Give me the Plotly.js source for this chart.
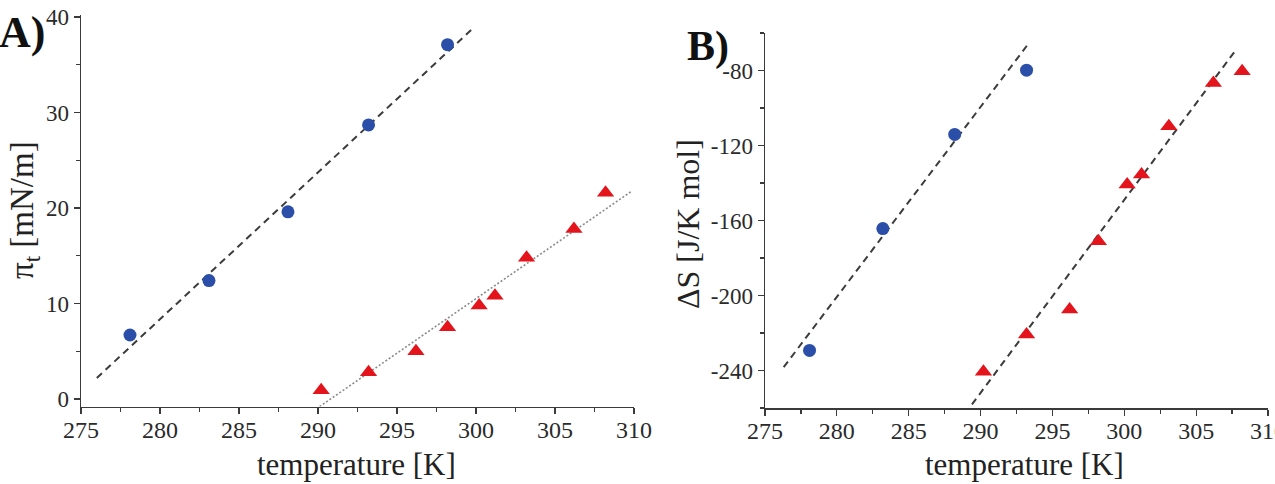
<!DOCTYPE html>
<html>
<head>
<meta charset="utf-8">
<script src="https://cdn.plot.ly/plotly-3.0.1.min.js"></script>
<style>html,body{margin:0;padding:0;background:#fff;}#chart{width:1275px;height:484px;}</style>
</head>
<body>
<div id="chart"></div>
<script>
// ---- Panel A data: surface pressure pi_t [mN/m] vs temperature [K]
const tempA_blue = [278.1, 283.1, 288.1, 293.2, 298.2];
const piA_blue   = [6.7, 12.4, 19.6, 28.7, 37.1];
const tempA_red  = [290.2, 293.2, 296.2, 298.2, 300.2, 301.2, 303.2, 306.2, 308.2];
const piA_red    = [0.9, 2.8, 5.0, 7.5, 9.8, 10.8, 14.8, 17.8, 21.6];
const fitA_blue_x = [276.0, 299.8];
const fitA_blue_y = [2.2, 38.8];
const fitA_red_x  = [290.1, 309.8];
const fitA_red_y  = [-0.8, 21.7];

// ---- Panel B data: entropy dS [J/K mol] vs temperature [K]
const tempB_blue = [278.1, 283.2, 288.2, 293.2];
const dsB_blue   = [-229.3, -164.3, -114.1, -79.8];
const tempB_red  = [290.2, 293.2, 296.2, 298.2, 300.2, 301.2, 303.1, 306.2, 308.2];
const dsB_red    = [-240.6, -220.8, -207.5, -171.0, -140.8, -135.5, -109.7, -86.7, -80.4];
const fitB_blue_x = [276.3, 293.3];
const fitB_blue_y = [-238.2, -66.0];
const fitB_red_x  = [289.4, 307.7];
const fitB_red_y  = [-258.1, -69.7];

// ---- Tick labels
const xTickVals = [275, 280, 285, 290, 295, 300, 305, 310];
const xTickText = ['275', '280', '285', '290', '295', '300', '305', '310'];
const yTickValsA = [0, 10, 20, 30, 40];
const yTickTextA = ['0', '10', '20', '30', '40'];
const yTickValsB = [-240, -200, -160, -120, -80];
const yTickTextB = ['-240', '-200', '-160', '-120', '-80'];

const SERIF = 'Liberation Serif, Times New Roman, Times, serif';
const BLUE = '#2b4ea8';
const RED = '#e3141c';
const AX = '#3a3a3a';

const dashLine = {color: '#3c3c3c', width: 2, dash: '7px,5px'};
const dotLine = {color: '#8a8a8a', width: 1.6, dash: '2px,2px'};

const traces = [
  {x: fitA_blue_x, y: fitA_blue_y, mode: 'lines', line: dashLine, xaxis: 'x', yaxis: 'y', hoverinfo: 'skip'},
  {x: fitA_red_x, y: fitA_red_y, mode: 'lines', line: dotLine, xaxis: 'x', yaxis: 'y', hoverinfo: 'skip'},
  {x: tempA_blue, y: piA_blue, mode: 'markers', marker: {symbol: 'circle', size: 13, color: BLUE}, xaxis: 'x', yaxis: 'y'},
  {x: tempA_red, y: piA_red, mode: 'markers', marker: {symbol: 'triangle-up', size: 15, color: RED}, xaxis: 'x', yaxis: 'y'},
  {x: fitB_blue_x, y: fitB_blue_y, mode: 'lines', line: dashLine, xaxis: 'x2', yaxis: 'y2', hoverinfo: 'skip'},
  {x: fitB_red_x, y: fitB_red_y, mode: 'lines', line: dashLine, xaxis: 'x2', yaxis: 'y2', hoverinfo: 'skip'},
  {x: tempB_blue, y: dsB_blue, mode: 'markers', marker: {symbol: 'circle', size: 13, color: BLUE}, xaxis: 'x2', yaxis: 'y2'},
  {x: tempB_red, y: dsB_red, mode: 'markers', marker: {symbol: 'triangle-up', size: 15, color: RED}, xaxis: 'x2', yaxis: 'y2'}
];

const W = 1275, H = 484;
const px = v => v / W;
const py = v => 1 - v / H;

function xAxis(domain, anchor) {
  return {
    domain: domain, anchor: anchor, range: [275, 310],
    tickmode: 'array', tickvals: xTickVals, ticktext: xTickText,
    showline: true, linecolor: AX, linewidth: 1.5, mirror: false,
    ticks: 'outside', ticklen: 6, tickwidth: 1.2, tickcolor: AX,
    minor: {tickmode: 'linear', tick0: 277.5, dtick: 5, ticks: 'outside', ticklen: 4, tickwidth: 1.2, tickcolor: AX},
    showgrid: false, zeroline: false, ticklabeloverflow: 'allow', ticklabelstandoff: -5,
    tickfont: {family: SERIF, size: 24, color: '#2a2a2a'}
  };
}
function yAxis(domain, anchor, range, vals, text, minor0, minorD) {
  return {
    domain: domain, anchor: anchor, range: range,
    tickmode: 'array', tickvals: vals, ticktext: text,
    showline: true, linecolor: AX, linewidth: 1.5, mirror: false,
    ticks: 'outside', ticklen: 6, tickwidth: 1.2, tickcolor: AX,
    minor: {tickmode: 'linear', tick0: minor0, dtick: minorD, ticks: 'outside', ticklen: 4, tickwidth: 1.2, tickcolor: AX},
    showgrid: false, zeroline: false,
    tickfont: {family: SERIF, size: 23, color: '#2a2a2a'}
  };
}

const layout = {
  width: W, height: H,
  margin: {l: 0, r: 0, t: 0, b: 0},
  paper_bgcolor: '#fff', plot_bgcolor: '#fff',
  showlegend: false,
  xaxis: xAxis([px(81), px(634)], 'y'),
  yaxis: yAxis([1 - 406.6 / H, 1 - 15.1 / H], 'x', [-0.8, 40.2], yTickValsA, yTickTextA, 5, 10),
  xaxis2: xAxis([px(765), px(1268)], 'y2'),
  yaxis2: yAxis([1 - 408 / H, 1 - 33 / H], 'x2', [-260, -60], yTickValsB, yTickTextB, -100, 40),
  annotations: [
    {text: '<b>A)</b>', xref: 'paper', yref: 'paper', x: px(22), y: py(33), showarrow: false,
     font: {family: SERIF, size: 44, color: '#111'}, xanchor: 'center', yanchor: 'middle'},
    {text: '<b>B)</b>', xref: 'paper', yref: 'paper', x: px(708), y: py(46), showarrow: false,
     font: {family: SERIF, size: 42, color: '#111'}, xanchor: 'center', yanchor: 'middle'},
    {text: 'π<sub>t</sub> [mN/m]', xref: 'paper', yref: 'paper', x: px(24), y: py(210), showarrow: false,
     textangle: -90, font: {family: SERIF, size: 33, color: '#222'}, xanchor: 'center', yanchor: 'middle'},
    {text: 'ΔS [J/K mol]', xref: 'paper', yref: 'paper', x: px(688), y: py(224), showarrow: false,
     textangle: -90, font: {family: SERIF, size: 32, color: '#222'}, xanchor: 'center', yanchor: 'middle'},
    {text: 'temperature [K]', xref: 'paper', yref: 'paper', x: px(356), y: py(464), showarrow: false,
     font: {family: SERIF, size: 31, color: '#222'}, xanchor: 'center', yanchor: 'middle'},
    {text: 'temperature [K]', xref: 'paper', yref: 'paper', x: px(1024), y: py(464), showarrow: false,
     font: {family: SERIF, size: 31, color: '#222'}, xanchor: 'center', yanchor: 'middle'}
  ]
};

Plotly.newPlot('chart', traces, layout, {staticPlot: true, displayModeBar: false});
</script>
</body>
</html>
